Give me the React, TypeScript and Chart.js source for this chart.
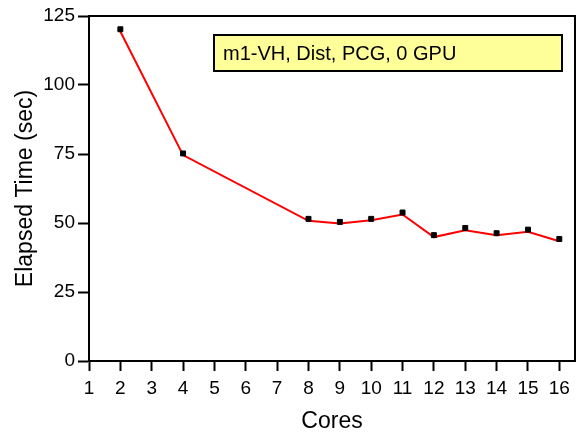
import React, { useEffect, useRef } from "react";
import { Chart, registerables } from "chart.js";

Chart.register(...registerables);

const cores = [2, 4, 8, 9, 10, 11, 12, 13, 14, 15, 16];
const measuredTimes = [120.2, 75.2, 51.5, 50.4, 51.5, 53.8, 45.6, 48.2, 46.3, 47.6, 44.2];
const lineTimes = [119.4, 74.6, 50.8, 49.8, 51.0, 53.1, 44.9, 47.4, 45.6, 46.8, 43.4];
const xTickValues = [1, 2, 3, 4, 5, 6, 7, 8, 9, 10, 11, 12, 13, 14, 15, 16];
const yTickValues = [0, 25, 50, 75, 100, 125];
const legendText = "m1-VH, Dist, PCG, 0 GPU";
const xTitle = "Cores";
const yTitle = "Elapsed Time (sec)";

const FONT = "Arial, 'Liberation Sans', sans-serif";

const frameAndLabel = {
  id: "frameAndLabel",
  afterDraw(chart: any) {
    const { ctx, chartArea } = chart;
    ctx.save();
    ctx.strokeStyle = "#000";
    ctx.lineWidth = 2;
    ctx.strokeRect(chartArea.left, chartArea.top, chartArea.right - chartArea.left, chartArea.bottom - chartArea.top);
    const bx = chartArea.left + 125;
    const by = chartArea.top + 19;
    const bw = 348;
    const bh = 36;
    ctx.fillStyle = "#ffff99";
    ctx.fillRect(bx, by, bw, bh);
    ctx.strokeRect(bx, by, bw, bh);
    ctx.fillStyle = "#000";
    ctx.font = `20px ${FONT}`;
    ctx.textBaseline = "middle";
    ctx.textAlign = "left";
    ctx.fillText(legendText, bx + 9, by + bh / 2 + 1);
    ctx.restore();
  },
};

export default function App() {
  const ref = useRef<HTMLCanvasElement | null>(null);
  useEffect(() => {
    document.body.style.margin = "0";
    const canvas = ref.current!;
    const chart = new Chart(canvas, {
      type: "line",
      data: {
        datasets: [
          {
            label: "measured",
            data: cores.map((c, i) => ({ x: c, y: measuredTimes[i] })),
            showLine: false,
            pointStyle: "rect",
            pointRadius: 3.5,
            pointBackgroundColor: "#000",
            pointBorderColor: "#000",
            pointBorderWidth: 1,
            order: 0,
          },
          {
            label: "line",
            data: cores.map((c, i) => ({ x: c, y: lineTimes[i] })),
            borderColor: "#ff0000",
            borderWidth: 2,
            pointRadius: 0,
            tension: 0,
            order: 1,
          },
        ],
      },
      options: {
        animation: false,
        responsive: false,
        events: [],
        layout: { padding: { left: 8, top: 16, right: 4, bottom: 0 } },
        plugins: { legend: { display: false }, tooltip: { enabled: false } },
        scales: {
          x: {
            type: "linear",
            min: 1,
            max: 16.5,
            afterBuildTicks: (s: any) => {
              s.ticks = xTickValues.map((v) => ({ value: v }));
            },
            afterFit: (s: any) => {
              s.height = 74;
            },
            ticks: {
              color: "#000",
              font: { family: FONT, size: 19 },
              padding: 6,
              maxRotation: 0,
              autoSkip: false,
            },
            grid: { drawOnChartArea: false, tickLength: 10, tickColor: "#000", tickWidth: 2 },
            border: { display: true, color: "#000", width: 2 },
            title: {
              display: true,
              text: xTitle,
              color: "#000",
              font: { family: FONT, size: 23 },
              padding: { top: 4, bottom: 0 },
            },
          },
          y: {
            type: "linear",
            min: 0,
            max: 125,
            afterBuildTicks: (s: any) => {
              s.ticks = yTickValues.map((v) => ({ value: v }));
            },
            afterFit: (s: any) => {
              s.width = 81;
            },
            ticks: {
              color: "#000",
              font: { family: FONT, size: 19 },
              padding: 3,
            },
            grid: { drawOnChartArea: false, tickLength: 11, tickColor: "#000", tickWidth: 2 },
            border: { display: true, color: "#000", width: 2 },
            title: {
              display: true,
              text: yTitle,
              color: "#000",
              font: { family: FONT, size: 23 },
              padding: { top: 4, bottom: 0 },
            },
          },
        },
      },
      plugins: [frameAndLabel],
    });
    return () => chart.destroy();
  }, []);
  return <canvas ref={ref} width={580} height={435} style={{ display: "block" }} />;
}
